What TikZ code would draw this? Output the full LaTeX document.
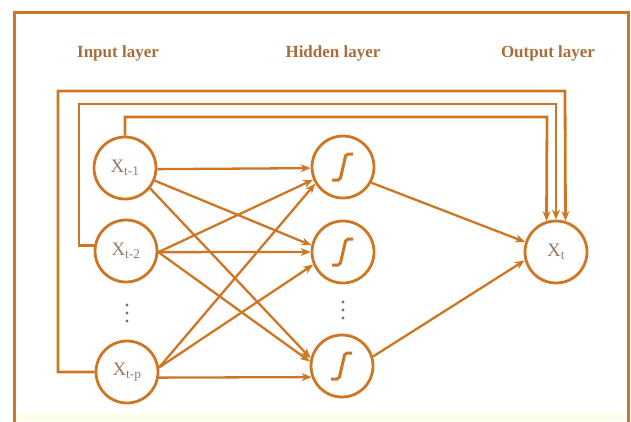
\documentclass[tikz,border=0pt]{standalone}
\usepackage{fontspec}
\setmainfont{Liberation Serif}
\usetikzlibrary{arrows.meta}
\definecolor{ln}{RGB}{205,118,36}
\definecolor{lbl}{RGB}{170,108,58}
\definecolor{txt}{RGB}{150,122,100}
\definecolor{dotc}{RGB}{120,112,110}
\definecolor{pale}{RGB}{255,253,238}
\begin{document}
\begin{tikzpicture}[x=1pt,y=-1pt,
  neuron/.style={circle,draw=ln,line width=2.8pt,minimum size=62pt,inner sep=0pt,fill=white,
    font=\fontsize{19}{19}\selectfont,text=txt},
  conn/.style={draw=ln,line width=2.3pt,-{Stealth[length=10pt,width=8pt]}},
  fb/.style={draw=ln,line width=2.8pt,-{Stealth[length=10pt,width=8pt]}},
  layer/.style={font=\bfseries\fontsize{17}{17}\selectfont,text=lbl},
  sig/.style={draw=ln,line width=3pt,rounded corners=2pt},
  dotmark/.style={circle,fill=dotc,inner sep=0pt,minimum size=3.4pt}]
\useasboundingbox (0,0) rectangle (631,421);
\fill[pale] (14,413) rectangle (628,421);
\draw[ln,line width=3pt] (14,430) -- (14,12) -- (628,12) -- (628,430);

% layer labels
\node[layer] (lin) at (118,53) {Input layer};
\node[layer] (lhid) at (333,53) {Hidden layer};
\node[layer] (lout) at (548,53) {Output layer};

% neurons
\node[neuron] (x1) at (125,168) {X\textsubscript{t-1}};
\node[neuron] (x2) at (126,251) {X\textsubscript{t-2}};
\node[neuron] (xp) at (127,372) {X\textsubscript{t-p}};
\node[neuron] (h1) at (343,167) {};
\node[neuron] (h2) at (343,252) {};
\node[neuron] (h3) at (342,366) {};
\node[neuron] (y) at (556,252) {X\textsubscript{t}};

% sigmoid glyphs
\foreach \h in {h1,h2,h3}{
  \draw[sig] ([shift={(-11,13)}]\h.center) -- ++(8,0) -- ++(6,-26) -- ++(7,0);
}

% vertical dots
\foreach \i/\yy in {1/305,2/313,3/321}{
  \node[dotmark] (din\i) at (127,\yy) {};
}
\foreach \i/\yy in {1/302,2/310,3/318}{
  \node[dotmark] (dhid\i) at (343,\yy) {};
}

% input -> hidden
\draw[conn] (x1.-2) -- (h1.182);
\draw[conn] (x1.-23) -- (h2.168);
\draw[conn] (x1.-39) -- (h3.166);
\draw[conn] (x2.-2) -- (h1.203);
\draw[conn] (x2.-2) -- (h2.180);
\draw[conn] (x2.-2) -- (h3.172);
\draw[conn] (xp.8) -- (h1.211);
\draw[conn] (xp.8) -- (h2.203);
\draw[conn] (xp.-10) -- (h3.200);

% hidden -> output
\draw[conn] (h1.-29) -- (y.162);
\draw[conn] (h3.17) -- (y.195);

% feedback connections
\coordinate (c1a) at (125,117);
\coordinate (c1b) at (547,117);
\coordinate (c2a) at (79,104);
\coordinate (c2b) at (556,104);
\coordinate (c3a) at (58,91);
\coordinate (c3b) at (565,91);
\draw[fb] (x1.north) -- (c1a) -- (c1b) -- (y.107);
\draw[fb] (x2.170) -| (c2a) -- (c2b) -- (y.90);
\draw[fb] (xp.west) -| (c3a) -- (c3b) -- (y.73);
\end{tikzpicture}
\end{document}
